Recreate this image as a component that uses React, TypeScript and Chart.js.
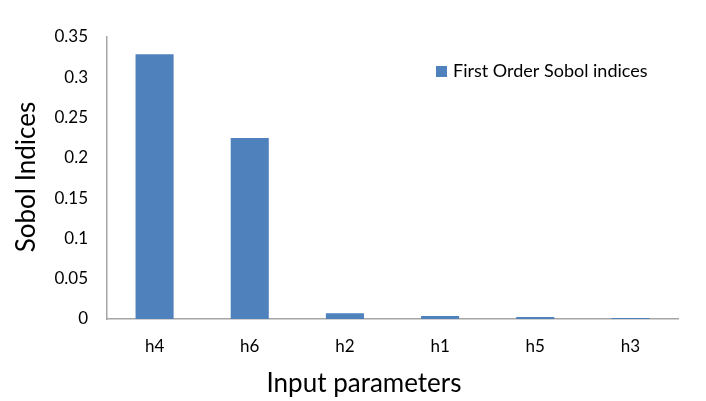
import React, { useEffect, useRef } from "react";
import { Chart, registerables } from "chart.js";

Chart.register(...registerables);

const categories = ["h4", "h6", "h2", "h1", "h5", "h3"];
const sobolValues = [0.3285, 0.2248, 0.0072, 0.0037, 0.0024, 0.0011];
const yTicks = [0, 0.05, 0.1, 0.15, 0.2, 0.25, 0.3, 0.35];
const seriesLabel = "First Order Sobol indices";
const xTitle = "Input parameters";
const yTitle = "Sobol Indices";
const FONT = "Lato, 'Open Sans', sans-serif";

const textPlugin = {
  id: "textExtras",
  afterDraw(chart: any) {
    const ctx = chart.ctx;
    const ds = chart.data.datasets[0];
    ctx.save();
    // legend
    ctx.fillStyle = ds.backgroundColor;
    ctx.fillRect(436, 66, 11, 11);
    ctx.fillStyle = "#000";
    ctx.font = `18px ${FONT}`;
    ctx.textBaseline = "middle";
    ctx.textAlign = "left";
    ctx.fillText(ds.label, 453, 71);
    // x title
    ctx.font = `26px ${FONT}`;
    ctx.textAlign = "center";
    ctx.fillText(xTitle, 364, 384);
    // y title
    ctx.translate(27, 177);
    ctx.rotate(-Math.PI / 2);
    ctx.fillText(yTitle, 0, 0);
    ctx.restore();
  },
};

export default function App() {
  const ref = useRef<HTMLCanvasElement>(null);
  useEffect(() => {
    if (!ref.current) return;
    const chart = new Chart(ref.current, {
      type: "bar",
      data: {
        labels: categories,
        datasets: [
          {
            label: seriesLabel,
            data: sobolValues,
            backgroundColor: "#4f81bd",
            barPercentage: 0.4,
            categoryPercentage: 1,
          },
        ],
      },
      options: {
        animation: false,
        responsive: false,
        layout: { padding: { top: 37, right: 28, left: 0, bottom: 0 } },
        plugins: { legend: { display: false }, tooltip: { enabled: false } },
        scales: {
          x: {
            grid: { display: false, drawOnChartArea: false, drawTicks: false },
            border: { display: true, color: "#a6a6a6", width: 1.5 },
            ticks: { color: "#000", font: { family: FONT, size: 17 }, padding: 17 },
            afterFit(scale: any) {
              scale.height = 82;
            },
          },
          y: {
            min: 0,
            max: 0.35,
            afterBuildTicks(scale: any) {
              scale.ticks = yTicks.map((v) => ({ value: v }));
            },
            grid: { display: false, drawOnChartArea: false, drawTicks: false },
            border: { display: true, color: "#a6a6a6", width: 1.5 },
            ticks: {
              color: "#000",
              font: { family: FONT, size: 17 },
              padding: 19,
              callback: (v: any) => String(Number(v)),
            },
            afterFit(scale: any) {
              scale.width = 107;
            },
          },
        },
      },
      plugins: [textPlugin],
    });
    return () => chart.destroy();
  }, []);
  return (
    <div style={{ position: "fixed", left: 0, top: 0, width: 706, height: 401, background: "#fff" }}>
      <canvas ref={ref} width={706} height={401} style={{ width: 706, height: 401 }} />
    </div>
  );
}
